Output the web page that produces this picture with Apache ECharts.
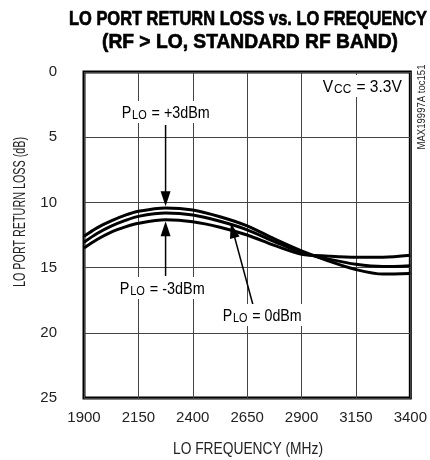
<!DOCTYPE html>
<html>
<head>
<meta charset="utf-8">
<script src="https://cdn.jsdelivr.net/npm/echarts@6/dist/echarts.min.js"></script>
<style>
html,body{margin:0;padding:0;background:#fff;}
#c{width:430px;height:460px;}
</style>
</head>
<body>
<div id="c"></div>
<script>
// ---- data ----
var freqMHz = [1900, 1960, 2025, 2090, 2150, 2275, 2400, 2525, 2650, 2775, 2900, 3025, 3150, 3275, 3400];
var lossP3 = [12.6, 11.95, 11.42, 10.98, 10.68, 10.42, 10.58, 11.1, 11.8, 12.8, 13.72, 14.5, 15.15, 15.5, 15.45];
var loss0  = [13.05, 12.38, 11.82, 11.38, 11.07, 10.82, 10.97, 11.45, 12.1, 13.0, 13.85, 14.35, 14.75, 14.92, 14.85];
var lossM3 = [13.5, 12.85, 12.28, 11.88, 11.6, 11.33, 11.48, 11.9, 12.5, 13.3, 13.98, 14.12, 14.2, 14.2, 14.05];
var xTicks = [1900, 2150, 2400, 2650, 2900, 3150, 3400];
var yTicks = [0, 5, 10, 15, 20, 25];

var FONT = "'Liberation Sans',Arial,sans-serif";

function pairs(xs, ys){ return xs.map(function(x,i){ return [x, ys[i]]; }); }

var chart = echarts.init(document.getElementById('c'), null, {renderer:'canvas'});

function lineSeries(name, vals){
  return {
    name: name, type: 'line', data: pairs(freqMHz, vals),
    smooth: 0.3, symbol: 'none',
    lineStyle: {color: '#000', width: 3}, z: 5
  };
}

var option = {
  animation: false,
  backgroundColor: '#fff',
  grid: {left: 84, right: 17, top: 72, bottom: 62, show: true, borderColor: '#000', borderWidth: 3, backgroundColor: 'transparent'},
  xAxis: {
    type: 'value', min: xTicks[0], max: xTicks[xTicks.length-1], interval: 250,
    axisLine: {show: false}, axisTick: {show: false},
    splitLine: {show: true, lineStyle: {color: '#444', width: 1}},
    axisLabel: {fontFamily: FONT, fontSize: 15, color: '#222', margin: 12, formatter: function(v){ return String(v); }}
  },
  yAxis: {
    type: 'value', inverse: true, min: yTicks[0], max: yTicks[yTicks.length-1], interval: 5,
    axisLine: {show: false}, axisTick: {show: false},
    splitLine: {show: true, lineStyle: {color: '#444', width: 1}},
    axisLabel: {fontFamily: FONT, fontSize: 15, color: '#222', margin: 27, formatter: function(v){ return String(v); }}
  },
  series: [
    lineSeries('+3dBm', lossP3),
    lineSeries('0dBm', loss0),
    lineSeries('-3dBm', lossM3)
  ]
};
chart.setOption(option);

function pt(x, y){ return chart.convertToPixel({gridIndex: 0}, [x, y]); }

var mctx = document.createElement('canvas').getContext('2d');
function textW(str, size, weight){
  mctx.font = (weight || 'normal') + ' ' + size + 'px ' + FONT;
  return mctx.measureText(str).width;
}

function arrowHead(tip, from, len, half){
  var dx = tip[0]-from[0], dy = tip[1]-from[1];
  var L = Math.sqrt(dx*dx+dy*dy); dx/=L; dy/=L;
  var bx = tip[0]-dx*len, by = tip[1]-dy*len;
  return {type:'polygon', z: 20, shape:{points:[[tip[0],tip[1]],[bx-dy*half, by+dx*half],[bx+dy*half, by-dx*half]]}, style:{fill:'#000'}};
}
function seg(a, b){
  return {type:'line', z: 20, shape:{x1:a[0],y1:a[1],x2:b[0],y2:b[1]}, style:{stroke:'#000', lineWidth:1.5}};
}

var MS = 17, SS = 13;
var richP = {
  m: {fontFamily: FONT, fontSize: MS, color: '#222', lineHeight: 20, verticalAlign: 'bottom'},
  s: {fontFamily: FONT, fontSize: SS, color: '#222', lineHeight: 14, verticalAlign: 'bottom', padding: [0,1,0,1]}
};
function subLabel(x, y, main, sub, rest, targetW){
  var w = textW(main, MS) + textW(sub, SS) + 2 + textW(rest, MS);
  var sx = targetW / w;
  return {type:'text', x: x, y: y, z: 30, scaleX: sx,
    style:{text: '{m|' + main + '}{s|' + sub + '}{m|' + rest + '}', rich: richP, align: 'left', verticalAlign: 'middle', backgroundColor: '#fff', padding: [1,2,1,2]}};
}
function fitText(x, y, str, size, weight, targetW, rot, fill){
  var sx = targetW / textW(str, size, weight);
  return {type:'text', x: x, y: y, z: 30, rotation: rot || 0, scaleX: sx,
    style:{text: str, fontFamily: FONT, fontWeight: weight || 'normal', fontSize: size, fill: fill || '#222', align:'center', verticalAlign:'middle'}};
}

// arrow tips (in data coordinates) for the annotations
var tipP3 = pt(2275, 10.3);
var tipM3 = pt(2275, 11.45);
var tip0  = pt(2575, 11.6);

var g = [];
var p3start = [tipP3[0], 125];
g.push(seg(p3start, [tipP3[0], tipP3[1]-10]));
g.push(arrowHead(tipP3, p3start, 15, 5));
var m3start = [tipM3[0], 276];
g.push(seg(m3start, [tipM3[0], tipM3[1]+10]));
g.push(arrowHead(tipM3, m3start, 15, 5));
var zstart = [253, 305];
g.push(seg(zstart, tip0));
g.push(arrowHead(tip0, zstart, 15, 5));

g.push(subLabel(120, 112, 'P', 'LO', ' = +3dBm', 88));
g.push(subLabel(118, 288, 'P', 'LO', ' = -3dBm', 85));
g.push(subLabel(221, 315, 'P', 'LO', ' = 0dBm', 79));
g.push(subLabel(321, 86, 'V', 'CC', ' = 3.3V', 79));

// title
var T1 = 'LO PORT RETURN LOSS vs. LO FREQUENCY', T2 = '(RF > LO, STANDARD RF BAND)';
var TS = 21;
function titleLine(x, y, str, targetW){
  return {type:'text', x: x, y: y, z: 30, scaleX: targetW / textW(str, TS, 'bold'),
    style:{text: str, fontFamily: FONT, fontWeight: 'bold', fontSize: TS, fill: '#000', stroke: '#000', lineWidth: 0.7, align: 'center', verticalAlign: 'middle'}};
}
g.push(titleLine(248, 19, T1, 358), titleLine(250, 42, T2, 296));
// axis titles
g.push(fitText(248, 450, 'LO FREQUENCY (MHz)', 16, 'normal', 150));
g.push(fitText(21, 212, 'LO PORT RETURN LOSS (dB)', 16, 'normal', 150, Math.PI/2));
// side code
g.push(fitText(422, 107, 'MAX19997A toc151', 10, 'normal', 85, Math.PI/2));

chart.setOption({graphic: g});
</script>
</body>
</html>
